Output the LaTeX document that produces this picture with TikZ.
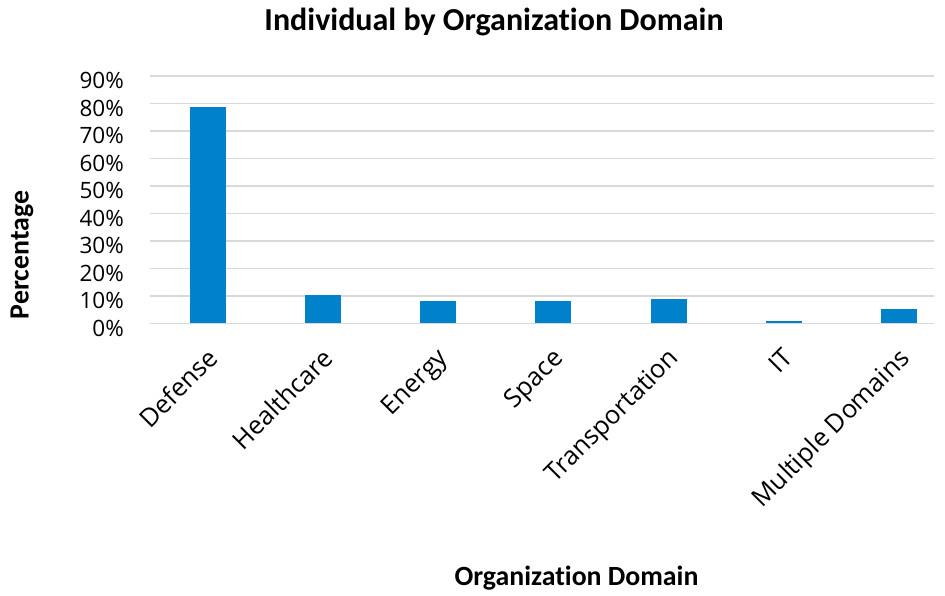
\documentclass[tikz,border=0pt]{standalone}
\usepackage{fontspec}
\setmainfont{Open Sans}
\newfontfamily\calfont[Ligatures={NoCommon}]{Carlito}
\definecolor{barblue}{HTML}{0082CA}
\definecolor{gridgray}{HTML}{D9D9D9}
\begin{document}
\begin{tikzpicture}[x=1pt,y=-1pt,
  gridline/.style={draw=gridgray,line width=1.6pt},
  bar/.style={fill=barblue,draw=none},
  ticklabel/.style={anchor=base east,inner sep=0pt,font=\fontsize{22.5}{26}\selectfont},
  catlabel/.style={anchor=north east,rotate=45,inner sep=0pt,font=\fontsize{25.5}{30}\selectfont},
  ttl/.style={inner sep=0pt,font=\calfont\bfseries\fontsize{32}{38}\selectfont},
  axttl/.style={inner sep=0pt,font=\calfont\bfseries\fontsize{27.8}{33}\selectfont}]
\useasboundingbox (0,0) rectangle (945,596);
\fill[white] (0,0) rectangle (945,596);
% gridlines and tick labels
\foreach \i/\lab in {0/0,1/10,2/20,3/30,4/40,5/50,6/60,7/70,8/80,9/90}{
  \pgfmathsetmacro{\gy}{323.3-27.48*\i}
  \coordinate (gl\i) at (150,\gy);
  \coordinate (gr\i) at (934,\gy);
  \draw[gridline] (gl\i) -- (gr\i);
  \node[ticklabel] (t\i) at (124,\gy+12.7) {\lab\%};
}
% bars
\foreach \k/\v/\name in {0/78.6/Defense,1/10.2/Healthcare,2/8.0/Energy,3/8.0/Space,4/8.8/Transportation,5/0.8/IT,6/5.2/Multiple Domains}{
  \pgfmathsetmacro{\cx}{207.5+115.3*\k}
  \pgfmathsetmacro{\top}{323.3-2.748*\v}
  \fill[bar] (\cx-18,323.3) rectangle (\cx+18,\top);
  \node[catlabel] (c\k) at (\cx-2,346) {\name};
}
% titles
\node[ttl] (title) at (494,22) {Individual by Organization Domain};
\node[axttl,rotate=90] (ytitle) at (22,255) {Percentage};
\node[axttl] (xtitle) at (576.5,578) {Organization Domain};
\end{tikzpicture}
\end{document}
